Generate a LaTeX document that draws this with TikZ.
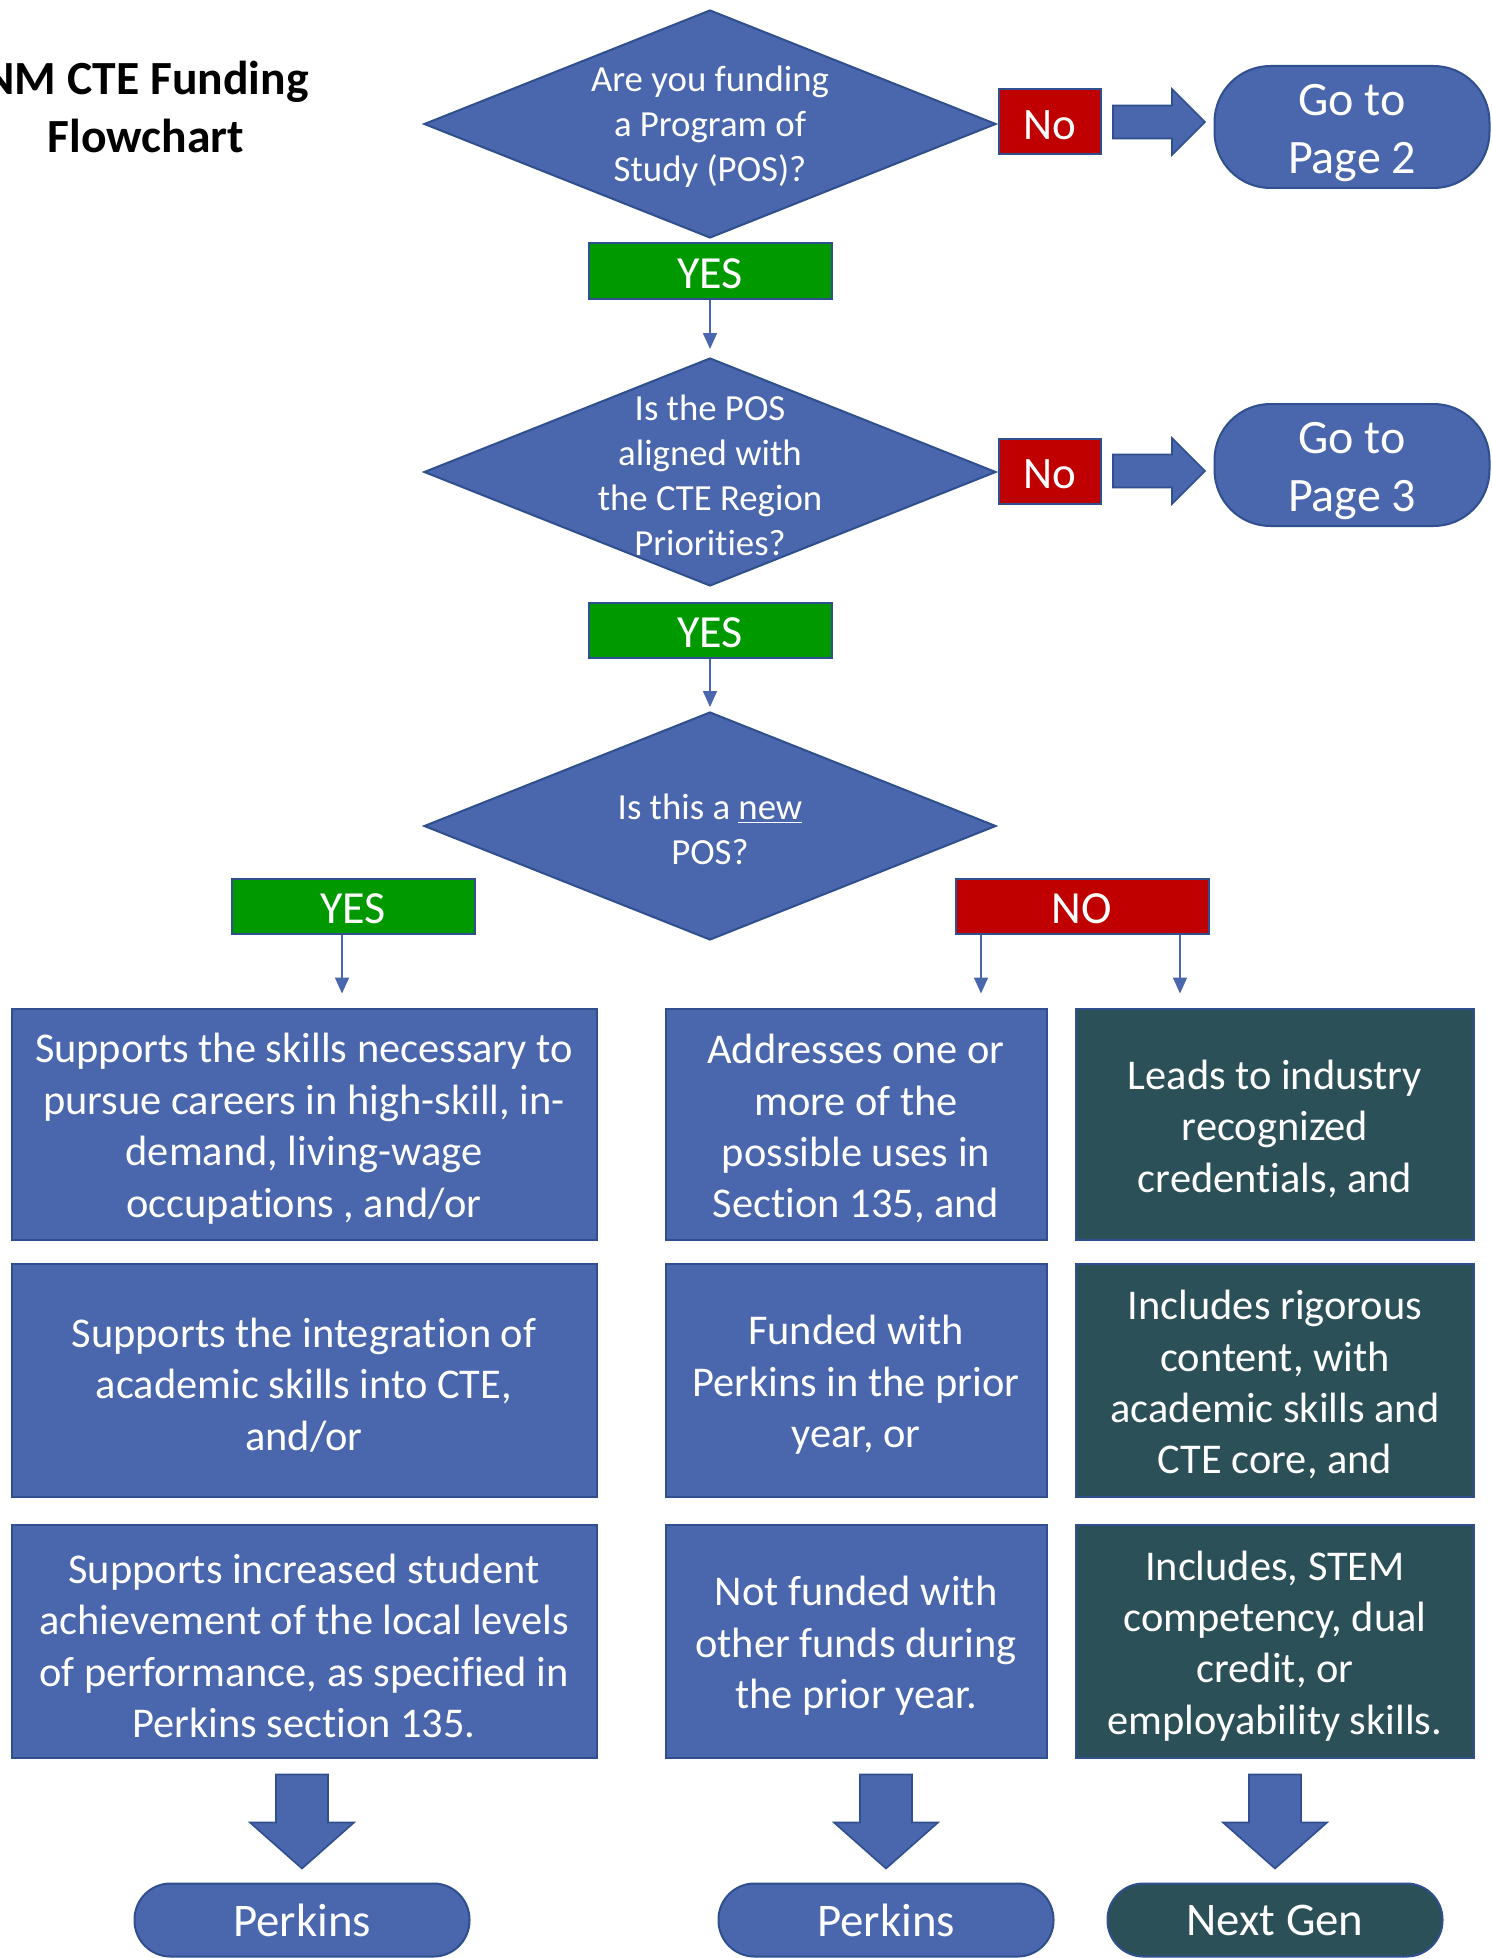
\documentclass[tikz,border=0pt]{standalone}
\usepackage{fontspec}
\setmainfont{Carlito}[Ligatures=NoCommon]
\usepackage{tikz}
\usepackage{xcolor}
\usetikzlibrary{shapes.geometric,arrows.meta,calc}
\definecolor{PosBlue}{HTML}{4A66AC}
\definecolor{EdgeBlue}{HTML}{2F4F8F}
\definecolor{YesGreen}{HTML}{009900}
\definecolor{NoRed}{HTML}{C00000}
\definecolor{GenTeal}{HTML}{2C5058}
% pushes the first line of a box text down a little
\newcommand{\firstline}[1]{\rule{0pt}{#1}}

\tikzset{
  shapebase/.style={draw=EdgeBlue, line width=1pt, text=white},
  question/.style={shapebase, fill=PosBlue, diamond, inner sep=0pt, minimum width=286pt, minimum height=114pt},
  qtext/.style={text=white, align=center, yshift=-1.5pt, font=\fontsize{18.4}{22.5}\selectfont},
  yesbox/.style={shapebase, fill=YesGreen, minimum width=121.5pt, minimum height=27.5pt, inner sep=0pt, text height=18pt, font=\fontsize{23}{27}\selectfont},
  nobox/.style={shapebase, fill=NoRed, minimum width=51pt, minimum height=32.5pt, inner sep=0pt, text height=18pt, font=\fontsize{22.5}{27}\selectfont},
  pagebox/.style={shapebase, fill=PosBlue, rounded corners=28pt, minimum width=137.5pt, minimum height=61pt, align=center, inner sep=0pt, font=\fontsize{24}{29.3}\selectfont},
  infobox/.style={shapebase, fill=PosBlue, align=center, inner sep=0pt, minimum height=116.5pt, font=\fontsize{21.2}{25.7}\selectfont},
  nextbox/.style={infobox, fill=GenTeal},
  fundend/.style={shapebase, fill=PosBlue, rounded corners=18pt, minimum width=167.5pt, minimum height=36.5pt, inner sep=0pt, font=\fontsize{23.4}{28}\selectfont},
  flowline/.style={PosBlue, line width=0.8pt, -{Triangle[width=7pt,length=8pt]}},
  blockarrow/.style={fill=PosBlue, draw=EdgeBlue, line width=0.8pt, line join=miter}
}

\begin{document}
\begin{tikzpicture}[x=1pt,y=-1pt]
        \fill[white] (0,0) rectangle (746,979);
        \useasboundingbox (0,0) rectangle (746,979);

        \node[align=center, font=\bfseries\fontsize{23.8}{28.7}\selectfont] (chartname) at (73,53.5) {NM CTE Funding\\Flowchart};

        % questions down the middle
        \node[question, label={[qtext]center:{Are you funding\\a Program of\\Study (POS)?}}] (askpos) at (355,62) {};
        \node[yesbox] (yesA) at (355,135.5) {YES};
        \node[question, label={[qtext]center:{Is the POS\\aligned with\\the CTE Region\\Priorities?}}] (askalign) at (355,236) {};
        \node[yesbox] (yesB) at (355,315) {YES};
        \node[question, label={[qtext]center:{Is this a \underline{new}\\POS?}}] (asknew) at (355,413) {};

        \node[nobox] (noA) at (525,61) {No};
        \node[nobox] (noB) at (525,235.5) {No};
        \node[pagebox] (gotoA) at (676,63.5) {\firstline{21.5pt}Go to\\Page 2};
        \node[pagebox] (gotoB) at (676,232.5) {\firstline{21.5pt}Go to\\Page 3};

        \node[yesbox] (yesC) at (176.5,453) {YES};
        \node[yesbox, fill=NoRed, minimum width=126.5pt] (noC) at (541,453) {NO};

        % criteria
        \node[infobox, minimum width=292.5pt, minimum height=115.5pt] (infoL1) at (152,562) {\firstline{19.5pt}Supports the skills necessary to\\pursue careers in high-skill, in-\\demand, living-wage\\occupations , and/or};
        \node[infobox, minimum width=292.5pt] (infoL2) at (152,690) {\firstline{19.5pt}Supports the integration of\\academic skills into CTE,\\and/or};
        \node[infobox, minimum width=292.5pt] (infoL3) at (152,820.5) {\firstline{19.5pt}Supports increased student\\achievement of the local levels\\of performance, as specified in\\Perkins section 135.};
        \node[infobox, minimum width=190.5pt, minimum height=115.5pt] (infoM1) at (428,562) {\firstline{19.5pt}Addresses one or\\more of the\\possible uses in\\Section 135, and};
        \node[infobox, minimum width=190.5pt] (infoM2) at (428,690) {\firstline{19.5pt}Funded with\\Perkins in the prior\\year, or};
        \node[infobox, minimum width=190.5pt] (infoM3) at (428,820.5) {\firstline{19.5pt}Not funded with\\other funds during\\the prior year.};
        \node[nextbox, minimum width=199pt, minimum height=115.5pt] (infoR1) at (637.5,562) {\firstline{19.5pt}Leads to industry\\recognized\\credentials, and};
        \node[nextbox, minimum width=199pt] (infoR2) at (637.5,690) {\firstline{19.5pt}Includes rigorous\\content, with\\academic skills and\\CTE core, and};
        \node[nextbox, minimum width=199pt] (infoR3) at (637.5,820.5) {\firstline{19.5pt}Includes, STEM\\competency, dual\\credit, or\\employability skills.};

        \node[fundend] (perkA) at (151,960) {Perkins};
        \node[fundend] (perkB) at (443,960) {Perkins};
        \node[fundend, fill=GenTeal] (nextgen) at (637.5,960) {Next Gen};

        \draw[flowline, shorten >=4pt] (yesA) -- (askalign);
        \draw[flowline, shorten >=2pt] (yesB) -- (asknew);
        \draw[flowline, shorten >=7pt] ([xshift=-5.5pt]yesC.south) -- ([xshift=-5.5pt]yesC.south |- infoL1.north);
        \draw[flowline, shorten >=7pt] ([xshift=-50.5pt]noC.south) -- ([xshift=-50.5pt]noC.south |- infoM1.north);
        \draw[flowline, shorten >=7pt] ([xshift=49pt]noC.south) -- ([xshift=49pt]noC.south |- infoR1.north);

        \foreach \src/\dst in {noA/gotoA, noB/gotoB}
            \draw[blockarrow] (\src.east) ++(5.5,-8.25) -- ++(29.5,0) -- ++(0,-8.25) -- ++(16.5,16.5) -- ++(-16.5,16.5) -- ++(0,-8.25) -- ++(-29.5,0) -- cycle;
        \foreach \src/\dst in {infoL3/perkA, infoM3/perkB, infoR3/nextgen}
            \draw[blockarrow] (\dst.north |- \src.south) ++(-13,8) -- ++(26,0) -- ++(0,24) -- ++(13,0) -- ++(-26,23) -- ++(-26,-23) -- ++(13,0) -- cycle;
    \end{tikzpicture}
\end{document}
